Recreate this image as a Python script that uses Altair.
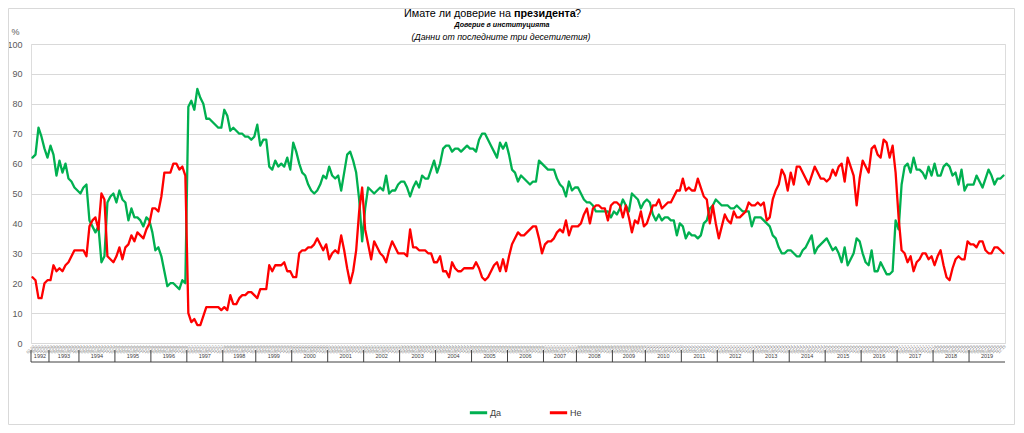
import altair as alt
import pandas as pd

# ---------------- data (monthly values) ----------------
YEARS = list(range(1992, 2020))

# "Да" (yes) per year
DA = [
    [62, 63, 72, 69, 65, 62],                              # 1992
    [66, 63, 56, 61, 57, 60, 55, 54, 52, 51],              # 1993
    [50, 52, 53, 41, 39, 37, 39, 27, 29, 47, 49, 50],      # 1994
    [47, 51, 48, 47, 41, 45, 42, 42, 41, 39, 42, 41],      # 1995
    [37, 31, 32, 29, 24, 19, 20, 20, 19, 18, 21, 20],      # 1996
    [79, 81, 78, 85, 82, 80, 75, 75, 74, 73, 72, 72],      # 1997
    [78, 76, 71, 72, 71, 70, 70, 69, 69, 68, 69],          # 1998
    [73, 66, 68, 68, 59, 58, 61, 59, 60, 59, 62, 58],      # 1999
    [67, 64, 60, 57, 56, 53, 51, 50, 51, 53, 56, 55],      # 2000
    [59, 56, 55, 56, 51, 57, 63, 64, 61, 57, 48, 34],      # 2001
    [45, 52, 51, 50, 51, 52, 51, 56, 50, 51, 51, 53],      # 2002
    [54, 54, 52, 49, 52, 54, 52, 56, 55, 55, 58, 61],      # 2003
    [57, 60, 65, 66, 66, 64, 65, 65, 64, 65, 66, 65],      # 2004
    [65, 64, 68, 70, 70, 68, 66, 64, 62, 67, 65, 67],      # 2005
    [63, 58, 57, 54, 56, 55, 54, 53, 54, 54, 61, 60],      # 2006
    [59, 58, 58, 58, 55, 53, 52, 49, 54, 51, 52],          # 2007
    [52, 50, 48, 47, 47, 46, 44, 44, 44, 44, 44, 42],      # 2008
    [44, 43, 45, 48, 46, 44, 50, 49, 48, 45, 47],          # 2009
    [48, 47, 43, 41, 43, 41, 42, 42, 41, 41, 36, 40],      # 2010
    [39, 35, 37, 36, 36, 35, 36, 40, 41, 45, 46, 48],      # 2011
    [47, 46, 46, 46, 45, 45, 46, 45, 44, 44, 44, 39],      # 2012
    [42, 42, 42, 41, 40, 39, 36, 35, 32, 30, 30, 31],      # 2013
    [31, 30, 29, 29, 31, 32, 34, 36, 30, 32, 33, 34],      # 2014
    [35, 33, 31, 32, 30, 27, 32, 26, 28, 30, 35, 34],      # 2015
    [30, 27, 26, 31, 24, 24, 27, 25, 23, 23, 24, 41],      # 2016
    [38, 53, 59, 60, 57, 62, 58, 58, 57, 55, 59, 56],      # 2017
    [60, 56, 56, 59, 60, 59, 56, 57, 53, 58, 51, 53],      # 2018
    [53, 53, 56, 54, 52, 55, 58, 56, 53, 55, 55, 56],      # 2019
]

# "Не" (no) per year
NE = [
    [22, 21, 15, 15, 20, 21],                              # 1992
    [21, 26, 24, 25, 24, 26, 27, 29, 31, 31],              # 1993
    [31, 31, 29, 39, 41, 42, 38, 50, 48, 29, 28, 27],      # 1994
    [29, 32, 28, 32, 33, 36, 34, 37, 36, 35, 38, 40],      # 1995
    [45, 45, 44, 49, 57, 57, 57, 60, 60, 58, 59, 56],      # 1996
    [10, 7, 8, 6, 6, 9, 12, 12, 12, 12, 12, 11],           # 1997
    [12, 11, 16, 13, 13, 15, 16, 16, 17, 17, 16],          # 1998
    [15, 18, 18, 18, 26, 24, 26, 26, 26, 27, 24, 24],      # 1999
    [22, 22, 30, 31, 31, 32, 32, 33, 35, 33, 31, 33],      # 2000
    [28, 30, 31, 30, 36, 31, 25, 20, 24, 31, 44, 52],      # 2001
    [38, 33, 28, 34, 32, 30, 29, 27, 31, 34, 32, 30],      # 2002
    [30, 30, 29, 38, 32, 32, 31, 31, 31, 30, 30, 27],      # 2003
    [27, 29, 24, 24, 22, 27, 25, 24, 24, 25, 25, 25],      # 2004
    [25, 27, 25, 22, 21, 22, 24, 26, 27, 24, 28, 24],      # 2005
    [29, 33, 35, 37, 36, 36, 37, 38, 39, 39, 35, 30],      # 2006
    [33, 34, 34, 35, 37, 38, 37, 41, 36, 39, 39],          # 2007
    [39, 40, 43, 45, 40, 45, 46, 46, 45, 45, 41, 46],      # 2008
    [47, 47, 46, 42, 46, 42, 37, 41, 40, 44, 39],          # 2009
    [40, 43, 46, 46, 48, 45, 46, 47, 47, 49, 51, 51],      # 2010
    [55, 51, 52, 51, 51, 55, 52, 49, 48, 40, 46, 40],      # 2011
    [35, 39, 43, 41, 40, 44, 42, 42, 43, 44, 47, 46],      # 2012
    [46, 47, 46, 47, 41, 42, 48, 51, 53, 58, 56, 51],      # 2013
    [57, 53, 59, 59, 57, 55, 53, 56, 59, 57, 55, 55],      # 2014
    [54, 55, 58, 56, 59, 60, 54, 62, 59, 56, 46, 55],      # 2015
    [61, 59, 57, 65, 66, 63, 62, 68, 67, 62, 66, 57],      # 2016
    [42, 31, 30, 27, 29, 24, 27, 28, 30, 30, 28, 29],      # 2017
    [26, 29, 31, 26, 22, 21, 25, 28, 29, 28, 28, 34],      # 2018
    [33, 33, 32, 34, 34, 31, 30, 30, 32, 32, 31, 30],      # 2019
]

SERIES = ["Да", "Не"]
COLORS = ["#00b050", "#ff0000"]
Y_TICKS = list(range(0, 101, 10))

TITLE_A = "Имате ли доверие на"
TITLE_B = "президента"
TITLE_C = "?"
SUB_1 = "Доверие в институцията"
SUB_2 = "(Данни от последните три десетилетия)"

FONT = "Liberation Sans"

# ---------------- build tables ----------------
rows, year_rows, month_labels = [], [], []
idx = 0
for y, da, ne in zip(YEARS, DA, NE):
    assert len(da) == len(ne), y
    start = idx
    first_month = 13 - len(da) if y == 1992 else 1
    for k, (a, b) in enumerate(zip(da, ne)):
        rows.append({"x": idx + 0.5, "value": a, "series": "Да", "o": 0})
        rows.append({"x": idx + 0.5, "value": b, "series": "Не", "o": 1})
        month_labels.append("%02d.%02d" % (first_month + k, y % 100))
        idx += 1
    year_rows.append({"year": str(y), "start": start, "mid": (start + idx) / 2})
N = idx
df = pd.DataFrame(rows).sort_values(["o", "x"])
years_df = pd.DataFrame(year_rows)

W, H = 974, 299
xscale = alt.Scale(domain=[0, N], nice=False, zero=False)

label_expr = "[" + ",".join("'%s'" % m for m in month_labels) + "][floor(datum.value)]"
x_axis = alt.Axis(values=[i + 0.5 for i in range(N)], labelExpr=label_expr,
                  labelAngle=-45, labelFontSize=4, labelColor="#7f7f7f",
                  labelOverlap=False, labelBound=False, labelFlush=False,
                  labelPadding=1, labelFont=FONT, labelAlign="right",
                  labelBaseline="top",
                  domain=False, ticks=False, grid=False, title=None)

lines = alt.Chart(df).mark_line(strokeWidth=2.3, strokeJoin="round", strokeCap="round").encode(
    x=alt.X("x:Q", scale=xscale, axis=x_axis),
    y=alt.Y("value:Q", scale=alt.Scale(domain=[0, 100], nice=False),
            axis=alt.Axis(values=Y_TICKS, grid=True, gridColor="#d9d9d9", gridWidth=1,
                          domain=False, ticks=False, labelPadding=9, labelFontSize=9,
                          labelColor="#595959", labelFont=FONT,
                          title="%", titleAngle=0, titleX=-16, titleY=-13,
                          titleAlign="center", titleBaseline="middle",
                          titleFontSize=9, titleFontWeight="normal", titleColor="#595959",
                          titleFont=FONT)),
    color=alt.Color("series:N", sort=SERIES,
                    scale=alt.Scale(domain=SERIES, range=COLORS),
                    legend=alt.Legend(orient="none", legendX=437, legendY=358,
                                      direction="horizontal", title=None,
                                      symbolType="stroke", symbolSize=300,
                                      symbolStrokeWidth=3, labelFontSize=9,
                                      labelFont=FONT, labelColor="#404040",
                                      labelOffset=1, columnPadding=41)),
    order=alt.Order("o:Q"),
    detail="series:N",
)

year_text = alt.Chart(years_df).mark_text(fontSize=5.5, font=FONT, color="#404040",
                                          baseline="middle").encode(
    x=alt.X("mid:Q", scale=xscale, axis=x_axis),
    y=alt.value(312),
    text="year:N",
)
year_sep = alt.Chart(years_df).mark_rule(color="#404040", strokeWidth=1).encode(
    x=alt.X("start:Q", scale=xscale, axis=x_axis),
    y=alt.value(306),
    y2=alt.value(318),
)
one = pd.DataFrame({"a": [0]})
bottom_line = alt.Chart(one).mark_rule(color="#404040", strokeWidth=1).encode(
    x=alt.value(0), x2=alt.value(W), y=alt.value(318),
)

TY = -30
t1 = alt.Chart(one).mark_text(text=TITLE_A, align="right", baseline="middle",
                              fontSize=10.8, font=FONT, color="#000000").encode(
    x=alt.value(480), y=alt.value(TY))
t2 = alt.Chart(one).mark_text(text=TITLE_B, align="left", baseline="middle",
                              fontSize=10.8, font=FONT, fontWeight="bold", color="#000000").encode(
    x=alt.value(483), y=alt.value(TY))
t3 = alt.Chart(one).mark_text(text=TITLE_C, align="left", baseline="middle",
                              fontSize=10.8, font=FONT, color="#000000").encode(
    x=alt.value(544), y=alt.value(TY))
s1 = alt.Chart(one).mark_text(text=SUB_1, align="center", baseline="middle",
                              fontSize=7.1, font=FONT, fontWeight="bold", fontStyle="italic",
                              color="#000000").encode(
    x=alt.value(471), y=alt.value(-19))
s2 = alt.Chart(one).mark_text(text=SUB_2, align="center", baseline="middle",
                              fontSize=8.8, font=FONT, fontStyle="italic",
                              color="#000000").encode(
    x=alt.value(470), y=alt.value(-7))
border = alt.Chart(one).mark_rect(filled=False, stroke="#d9d9d9", strokeWidth=1).encode(
    x=alt.value(-22.5), x2=alt.value(983.5), y=alt.value(-35.5), y2=alt.value(380.5))

chart = alt.layer(border, lines, year_sep, year_text, bottom_line, t1, t2, t3, s1, s2).properties(
    width=W, height=H,
    autosize=alt.AutoSizeParams(type="none"),
    padding={"left": 23, "top": 36, "right": 11, "bottom": 82},
).configure_view(stroke=None).configure(background="white")

chart.save("out.html", embed_options={"renderer": "svg", "actions": False})
